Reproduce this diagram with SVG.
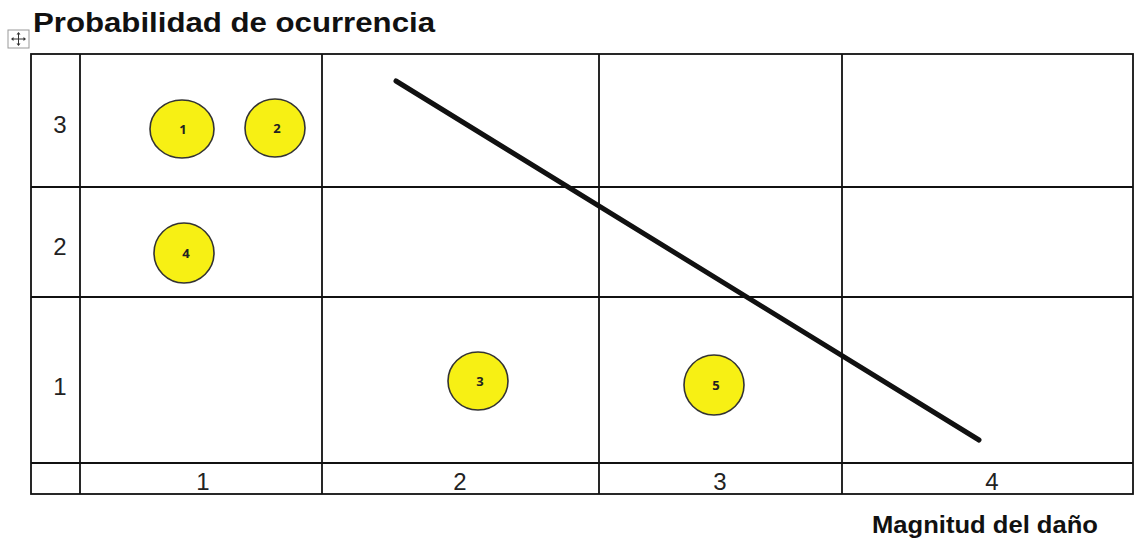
<svg xmlns="http://www.w3.org/2000/svg" width="1138" height="543" viewBox="0 0 1138 543">
<style>
.grid{stroke:#111;stroke-width:1.8;fill:none}
.ax{font-family:"Liberation Sans",Arial,sans-serif;font-size:24px;fill:#222;text-anchor:middle}
.ttl{font-family:"Liberation Sans",Arial,sans-serif;font-weight:bold;fill:#111}
.dot{fill:#f7f014;stroke:#333;stroke-width:1.6}
.num{font-family:"Open Sans","Liberation Sans",sans-serif;font-weight:bold;font-size:13px;fill:#222;text-anchor:middle}
</style>
<rect width="1138" height="543" fill="#fff"/>
<text class="ttl" x="33" y="32" font-size="27" textLength="402" lengthAdjust="spacingAndGlyphs">Probabilidad de ocurrencia</text>
<g id="move-handle">
<rect x="8" y="30" width="21" height="18" fill="#fff" stroke="#999" stroke-width="1"/>
<path d="M12 39 H25 M18.5 33 V45" stroke="#333" stroke-width="1"/>
<path d="M11 39 l2.5-2 v4z M26 39 l-2.5-2 v4z M18.5 32 l-2 2.5 h4z M18.5 46 l-2-2.5 h4z" fill="#333"/>
</g>
<g id="grid">
<rect class="grid" x="31" y="54" width="1102" height="440"/>
<path class="grid" d="M80 54 V494 M322 54 V494 M599 54 V494 M842 54 V494 M31 187 H1133 M31 297 H1133 M31 463 H1133"/>
</g>
<g id="axis-labels">
<text class="ax" x="60" y="133">3</text>
<text class="ax" x="60" y="255">2</text>
<text class="ax" x="60" y="395">1</text>
<text class="ax" x="203" y="490">1</text>
<text class="ax" x="460" y="490">2</text>
<text class="ax" x="720" y="490">3</text>
<text class="ax" x="992" y="490">4</text>
</g>
<text class="ttl" x="872" y="533" font-size="23" textLength="226" lengthAdjust="spacingAndGlyphs">Magnitud del daño</text>
<g id="connectors">
<line x1="396" y1="81" x2="979" y2="440" stroke="#111" stroke-width="5" stroke-linecap="round"/>
</g>
<g id="node-1"><ellipse class="dot" cx="182" cy="129" rx="32" ry="29"/><text class="num" x="183" y="134">1</text></g>
<g id="node-2"><ellipse class="dot" cx="275" cy="128" rx="30" ry="29"/><text class="num" x="277" y="133">2</text></g>
<g id="node-4"><ellipse class="dot" cx="184" cy="253" rx="30" ry="30"/><text class="num" x="186" y="258">4</text></g>
<g id="node-3"><ellipse class="dot" cx="478" cy="381" rx="30" ry="29"/><text class="num" x="480" y="386">3</text></g>
<g id="node-5"><ellipse class="dot" cx="714" cy="385" rx="30" ry="30"/><text class="num" x="716" y="390">5</text></g>
</svg>
